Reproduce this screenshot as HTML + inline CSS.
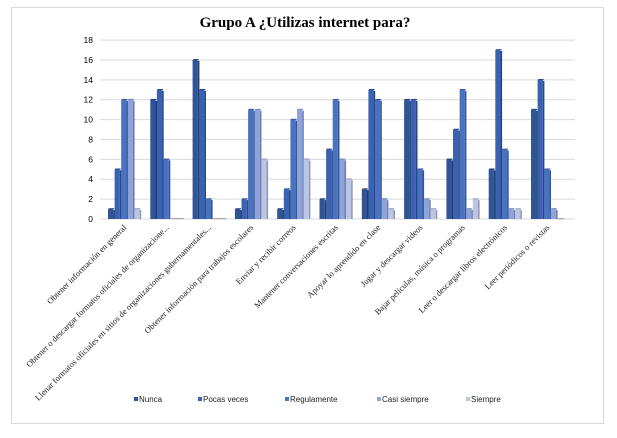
<!DOCTYPE html>
<html><head><meta charset="utf-8"><style>
body{margin:0;background:#fff;}
svg{display:block;}
</style></head><body>
<svg width="617" height="438" xmlns="http://www.w3.org/2000/svg">
<rect x="11.5" y="7.5" width="592" height="416" fill="#fff" stroke="#d9d9d9"/>
<text x="305" y="27" text-anchor="middle" font-family="Liberation Serif, serif" font-weight="bold" font-size="15">Grupo A ¿Utilizas internet para?</text>
<g id="grid" stroke="#d9d9d9" stroke-width="1"></g>
<g id="yl" font-family="Liberation Sans, sans-serif" font-size="8.5" text-anchor="end"></g>
<g id="bars"></g>
<g id="xl" font-family="Liberation Serif, serif" font-size="8.5" text-anchor="end" fill="#222"></g>
<g font-family="Liberation Sans, sans-serif" font-size="8" fill="#222">
<rect x="134" y="397" width="4" height="4" fill="#2f5597"/><text x="139" y="402">Nunca</text>
<rect x="198" y="397" width="4" height="4" fill="#3a62b0"/><text x="203" y="402">Pocas veces</text>
<rect x="285" y="397" width="4" height="4" fill="#4a72c0"/><text x="290" y="402">Regulamente</text>
<rect x="377" y="397" width="4" height="4" fill="#8fa3d6"/><text x="382" y="402">Casi siempre</text>
<rect x="466" y="397" width="4" height="4" fill="#bcc6e3"/><text x="471" y="402">Siempre</text>
</g>
<script>
const ns="http://www.w3.org/2000/svg";
function el(p,t,a,txt){const e=document.createElementNS(ns,t);for(const k in a)e.setAttribute(k,a[k]);if(txt)e.textContent=txt;document.getElementById(p).appendChild(e);}
const y0=219,u=9.94;
for(let v=0;v<=18;v+=2){const y=y0-v*u;el('grid','line',{x1:100,y1:y,x2:575,y2:y});el('yl','text',{x:93,y:y+3},String(v));}
const data=[[1,5,12,12,1],[12,13,6,0,0],[16,13,2,0,0],[1,2,11,11,6],[1,3,10,11,6],[2,7,12,6,4],[3,13,12,2,1],[12,12,5,2,1],[6,9,13,1,2],[5,17,7,1,1],[11,14,5,1,0]];
const front=["#2f5597","#3a62b0","#4a72c0","#8fa3d6","#bcc6e3"];
const side=["#1f3a6e","#274887","#30559a","#6a7fb5","#9099b5"];
const labels=["Obtener información en general","Obtener o descargar formatos oficiales de organizacione...","Llenar formatos oficiales en sitios de organizaciones gubernamentales...","Obtener información para trabajos escolares","Enviar y recibir correos","Mantener conversaciones escritas","Apoyar lo aprendido en clase","Jugar y descargar videos","Bajar películas, música o programas","Leer o descargar libros electrónicos","Leer periódicos o revistas"];
data.forEach((g,i)=>{const x0=108+i*42.3;
 g.forEach((v,j)=>{const x=x0+j*6.6,h=v*u,y=y0-h;
  if(v===0){el('bars','rect',{x:x,y:y0-1,width:7,height:1.2,fill:"#aaa"});return;}
  el('bars','rect',{x:x,y:y,width:5.2,height:h,fill:front[j]});
  el('bars','rect',{x:x+5.2,y:y+1,width:1.6,height:h-1,fill:side[j]});
  el('bars','rect',{x:x+0.5,y:y-0.8,width:5.6,height:1,fill:side[j]});
 });
 const cx=x0+19,cy=228;
 el('xl','text',{x:cx,y:cy,transform:`rotate(-45 ${cx} ${cy})`},labels[i]);
});
</script>
</svg>
</body></html>
